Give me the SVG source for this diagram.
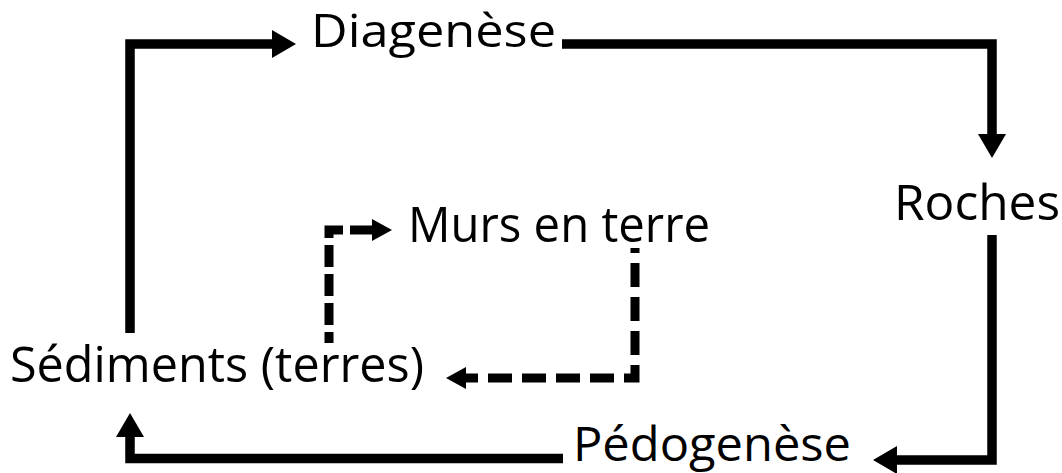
<svg xmlns="http://www.w3.org/2000/svg" width="1062" height="473" viewBox="0 0 1062 473">
  <style>
    .lbl { font-family: "Open Sans", "Noto Sans", "Liberation Sans", sans-serif; font-size: 49px; fill: #000; }
    .solid { fill: none; stroke: #000; stroke-width: 9.5; stroke-linejoin: miter; stroke-linecap: butt; }
    .dash { fill: none; stroke: #000; stroke-width: 9; stroke-linejoin: miter; stroke-linecap: butt; }
  </style>
  <defs>
    <marker id="ah" markerUnits="userSpaceOnUse" viewBox="0 0 24 28" markerWidth="24" markerHeight="28" refX="0" refY="14" orient="auto">
      <path d="M0,0 L24,14 L0,28 Z" fill="#000"/>
    </marker>
    <marker id="ahd" markerUnits="userSpaceOnUse" viewBox="0 0 20 22" markerWidth="20" markerHeight="22" refX="0" refY="11" orient="auto-start-reverse">
      <path d="M0,0 L20,11 L0,22 Z" fill="#000"/>
    </marker>
  </defs>
  <rect width="1062" height="473" fill="#fff"/>
  <g id="connectors">
    <path class="solid" d="M130,333 V44 H272" marker-end="url(#ah)"/>
    <path class="solid" d="M562,44 H992 V134" marker-end="url(#ah)"/>
    <path class="solid" d="M992,235 V460 H897" marker-end="url(#ah)"/>
    <path class="solid" d="M563,458.5 H130 V437" marker-end="url(#ah)"/>
    <path class="dash" d="M372,230 H329 V343" stroke-dasharray="22 7" marker-start="url(#ahd)"/>
    <path class="dash" d="M466,378 H635 V248" stroke-dasharray="24 10" stroke-dashoffset="12" marker-start="url(#ahd)"/>
  </g>
  <g id="node-diagenese">
    <text class="lbl" x="311" y="47" style="font-size:46px" textLength="245" lengthAdjust="spacingAndGlyphs">Diagenèse</text>
  </g>
  <g id="node-roches">
    <text class="lbl" x="894" y="220" textLength="166" lengthAdjust="spacingAndGlyphs">Roches</text>
  </g>
  <g id="node-murs">
    <text class="lbl" x="408" y="242" textLength="302" lengthAdjust="spacingAndGlyphs">Murs en terre</text>
  </g>
  <g id="node-sediments">
    <text class="lbl" x="10" y="382" textLength="414" lengthAdjust="spacingAndGlyphs">Sédiments (terres)</text>
  </g>
  <g id="node-pedogenese">
    <text class="lbl" x="573" y="461" style="font-size:47px" textLength="278" lengthAdjust="spacingAndGlyphs">Pédogenèse</text>
  </g>
</svg>
